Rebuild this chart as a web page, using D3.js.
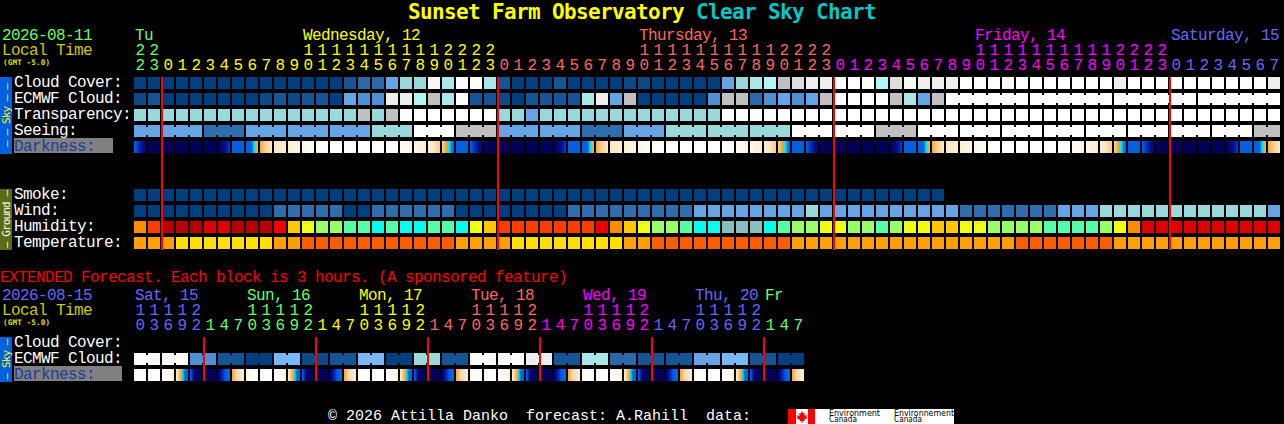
<!DOCTYPE html>
<html><head><meta charset="utf-8">
<script src="https://cdnjs.cloudflare.com/ajax/libs/d3/7.8.5/d3.min.js"></script>
<style>
html,body{margin:0;padding:0;background:#000;overflow:hidden}
svg{display:block}
text{font-family:"DejaVu Sans Mono",monospace;white-space:pre}
text.t{font-family:"Liberation Mono",monospace;font-size:16px;letter-spacing:-0.6px}
</style></head><body>
<script>
// ---------- hours ----------
const hoursMain = [22,23,
 0,1,2,3,4,5,6,7,8,9,10,11,12,13,14,15,16,17,18,19,20,21,22,23,
 0,1,2,3,4,5,6,7,8,9,10,11,12,13,14,15,16,17,18,19,20,21,22,23,
 0,1,2,3,4,5,6,7,8,9,10,11,12,13,14,15,16,17,18,19,20,21,22,23,
 0,1,2,3,4,5,6,7];
const hoursExt = [10,13,16,19,22,
 1,4,7,10,13,16,19,22, 1,4,7,10,13,16,19,22, 1,4,7,10,13,16,19,22,
 1,4,7,10,13,16,19,22, 1,4,7,10,13,16,19,22, 1,4,7];
const dayLabelsMain = ["Tu","Wednesday, 12","Thursday, 13","Friday, 14","Saturday, 15"];
const dayColsMain = [0,12,36,60,74];
const dayLabelsExt = ["Sat, 15","Sun, 16","Mon, 17","Tue, 18","Wed, 19","Thu, 20","Fr"];
const dayColsExt = [0,8,16,24,32,40,45];

// ---------- main forecast ----------
const cloudCover = [100,100,100,100,100,100,100,100,100,100,100,100,100,100,100,90,85,85,75,60,60,5,50,0,0,50,
 90,100,100,100,90,100,100,100,100,95,95,100,100,100,100,100,75,60,50,40,30,20,10,10,
 0,0,0,40,20,5,10,10,10,0,0,0,5,0,0,0,0,0,0,0,10,0,0,0,0,0,0,0,0,0,0,10];
const ecmwfCloud = [95,90,100,100,100,100,100,100,100,95,90,95,90,90,100,75,80,80,10,10,40,30,50,0,90,90,
 95,100,90,90,90,90,50,10,75,30,100,100,100,100,100,80,30,30,85,80,75,80,75,30,
 0,0,0,0,30,50,75,30,0,0,0,0,0,0,0,0,0,0,0,0,0,0,0,0,0,0,0,0,0,0,0,0];
const transparency = [2,2,2,2,2,2,2,2,2,2,2,2,2,2,2,2,0,2,0,1,1,1,1,1,1,1,
 2,2,3,2,2,2,2,2,2,2,2,2,2,2,2,2,1,1,1,1,1,1,1,1,
 1,1,1,1,1,1,1,1,1,1,1,1,1,1,1,1,1,1,1,1,1,1,1,1,1,1,1,1,1,1,1,1];
const seeing = [3,3,3,3,3,4,4,4,3,3,3,3,3,3,3,3,3,2,2,2,1,1,1,0,0,0,
 3,3,3,3,3,3,4,4,4,3,3,3,2,2,2,2,2,2,2,2,2,1,1,1,
 1,1,1,0,0,0,1,1,1,1,1,1,1,1,1,1,1,1,1,1,1,1,1,1,1,1,1,1,1,1,0,0];
const darkFrom = [5,7,7,7,7,7,7,5,5,3,2,1.5,1,0,0,0,0,0,0,0.5,1,1.5,2.6,5,5,7,
 7,7,7,7,7,5,5,3,2,1.5,1,0,0,0,0,0,0,0.5,1,1.5,2.6,5,5,7,
 7,7,7,7,7,5,5,3,2,1.5,1,0,0,0,0,0,0,0.5,1,1.5,2.6,5,5,7,
 7,7,7,7,7,5,5,3];
const darkTo = [6.5,7,7,7,7,7,5.5,5,3,2,1.5,1,0.5,0,0,0,0,0,0.5,1,1.5,2.6,4.2,5,6.5,7,
 7,7,7,7,5.5,5,3,2,1.5,1,0.5,0,0,0,0,0,0.5,1,1.5,2.6,4.2,5,6.5,7,
 7,7,7,7,5.5,5,3,2,1.5,1,0.5,0,0,0,0,0,0.5,1,1.5,2.6,4.2,5,6.5,7,
 7,7,7,7,5.5,5,3,2];
const smoke = [0,0,0,0,0,0,0,0,0,0,0,0,0,0,0,0,0,0,0,0,0,0,0,0,0,0,0,0,0,0,0,0,0,0,0,0,0,0,0,0,0,0,0,0,0,0,0,0,0,0,0,0,0,0,0,0,0,0];
const wind = [3,3,3,3,3,3,3,3,3,3,8,8,8,8,8,3,3,8,8,8,8,8,8,3,3,3,
 3,3,3,3,3,8,8,8,8,8,8,8,8,8,14,14,14,14,14,14,14,14,20,14,
 14,14,14,14,14,14,14,14,14,8,8,8,8,8,8,8,14,14,14,20,20,20,20,20,
 20,20,20,20,20,20,20,14];
const humidity = [65,70,85,85,85,80,80,85,85,85,75,60,55,50,50,45,45,35,45,35,35,45,45,35,55,60,
 70,70,70,70,70,70,70,75,65,60,55,50,50,45,35,35,25,25,25,35,45,50,50,55,55,50,
 50,45,50,55,55,60,60,55,55,50,50,50,50,45,45,45,45,50,55,65,80,80,
 80,80,80,80,80,80,80,80];
const temperature = [24,24,24,21,21,21,21,21,21,21,24,24,27,27,27,27,27,27,27,27,27,27,27,24,24,24,
 24,21,21,21,21,21,21,21,21,24,24,27,27,27,27,27,27,27,27,27,27,24,24,24,
 24,24,24,24,24,24,24,24,24,24,24,24,24,27,27,27,27,27,27,27,24,24,24,24,
 24,24,24,24,24,24,24,24];

// ---------- extended forecast ----------
const ecmwfExt = [0,5,5,0,80,80,90,90,100,100,70,70,95,95,90,90,70,70,100,100,60,60,90,90,
 0,5,5,0,10,10,90,90,50,50,85,85,90,90,90,90,75,75,70,70,90,90,100,100];
const darkFromExt = [0.7,0,0,2,5,7,6.5,3,1,0,0,2,5,7,6.5,3,0.5,0,0,2,5,7,6.5,3,0.5,0,0,2,5,7,6.5,3,0.5,0,0,2,5,7,6.5,3,0.5,0,0,2,5,7,6.5,3];
const darkToExt = [0,0,1.5,4.8,9,7,4.2,1.5,0,0,1.5,4.8,9,7,4.2,1.5,0,0,1.5,4.8,9,7,4.2,1.5,0,0,1.5,4.8,9,7,4.2,1.5,0,0,1.5,4.8,9,7,4.2,1.5,0,0,1.5,4.8,9,7,4.2,1.5];

// ---------- scales ----------
const dayPalette = ["#66ff66","#ffff00","#ff6666","#ff00ff","#6666ff"];
const extPalette = ["#6666ff","#66ff66","#ffff00","#ff6666","#ff00ff","#6666ff","#66ff66"];
const cloudColor = d3.scaleOrdinal(
 [0,5,10,20,30,40,50,60,70,75,80,85,90,95,100],
 ["#ffffff","#f8f8f8","#eeeeee","#dddddd","#c0c0c0","#b2f6f6","#a8e8e8","#99d9d9","#78b8f8","#65a5e5","#4f8fd6","#2a68a8","#155595","#0b4987","#003f7f"]);
const transColor = d3.scaleOrdinal([0,1,2,3],["#c0c0c0","#ffffff","#99d9d9","#65a5e5"]);
const seeColor = d3.scaleOrdinal([0,1,2,3,4],["#c0c0c0","#ffffff","#99d9d9","#65a5e5","#2e6eae"]);
const darkColor = d3.scaleLinear()
 .domain([0,1,2,2.6,3,3.4,3.6,3.85,4.2,5,5.6,6.2,7])
 .range(["#ffffff","#fff6e8","#ffe6c6","#ffcc8c","#ffa838","#60d080","#10e4f0","#0090f0","#0068e4","#0060e0","#0030b0","#000890","#000058"])
 .clamp(true);
const smokeColor = d3.scaleOrdinal([0],["#003f7f"]);
const windColor = d3.scaleOrdinal([3,8,14,20],["#003f7f","#2e6eae","#65a5e5","#99d9d9"]);
const humColor = d3.scaleOrdinal([25,35,45,50,55,60,65,70,75,80,85],
 ["#88c0c0","#00ffee","#55ffaa","#99ff66","#eeff10","#ffc800","#ff8c00","#ff3c00","#f00000","#e00000","#b80000"]);
const tempColor = d3.scaleOrdinal([21,24,27],["#ffe000","#ffa000","#ff5c00"]);

const svg = d3.select("body").append("svg").attr("width",1284).attr("height",424);
const CELL = 12, STEP = 14, LEFT = 134;
const xMain = d3.scaleBand().domain(d3.range(hoursMain.length))
  .range([LEFT, LEFT+STEP*hoursMain.length-(STEP-CELL)]).paddingInner((STEP-CELL)/STEP).paddingOuter(0);
const xExt = d3.scaleBand().domain(d3.range(hoursExt.length))
  .range([LEFT, LEFT+STEP*hoursExt.length-(STEP-CELL)]).paddingInner((STEP-CELL)/STEP).paddingOuter(0);

function txt(x,y,s,fill){
  return svg.append("text").attr("class","t").attr("x",x).attr("y",y).attr("fill",fill).text(s);
}
function cells(x,values,y,color,connected){
  const g = svg.append("g").attr("shape-rendering","crispEdges");
  g.selectAll("rect.c").data(values).join("rect").attr("class","c")
    .attr("x",(d,i)=>x(i)).attr("y",y).attr("width",x.bandwidth()).attr("height",CELL).attr("fill",d=>color(d));
  if(connected){
    g.selectAll("rect.j").data(values.map((d,i)=>({d,i})).filter(o=>o.i<values.length-1 && connected(o.i))).join("rect").attr("class","j")
      .attr("x",o=>x(o.i)+CELL).attr("y",y+2).attr("width",STEP-CELL).attr("height",CELL-4).attr("fill",o=>color(o.d));
  }
}
function darkCells(x,from,to,y){
  const g = svg.append("g").attr("shape-rendering","crispEdges");
  const px = d3.range(CELL);
  from.forEach((f,i)=>{
    const v = d3.scaleLinear().domain([0,CELL-1]).range([f,to[i]]);
    g.selectAll(null).data(px).join("rect")
      .attr("x",p=>x(i)+p).attr("y",y).attr("width",1).attr("height",CELL).attr("fill",p=>darkColor(v(p)));
  });
}
function hourLabels(x,hours,palette,yTens,yUnits){
  let day=0;
  hours.forEach((h,i)=>{
    if(i>0 && h<hours[i-1]) day++;
    const c=palette[day], cx=x(i)+CELL/2;
    if(h>=10) txt(cx,yTens,String(Math.floor(h/10)),c).attr("text-anchor","middle");
    txt(cx,yUnits,String(h%10),c).attr("text-anchor","middle");
  });
}
function gmt(y){
  svg.append("text").attr("x",3).attr("y",y).attr("fill","#e0e000").attr("font-size",7.6).attr("font-weight","bold")
    .attr("textLength",47).attr("lengthAdjust","spacing").text("(GMT -5.0)");
}

// ---------- title ----------
const title = svg.append("text").attr("x",408).attr("y",18.6).attr("font-size",21).attr("letter-spacing",-0.64).attr("font-weight","bold");
title.append("tspan").attr("fill","#ffff00").text("Sunset Farm Observatory ");
title.append("tspan").attr("fill","#00c8c8").text("Clear Sky Chart");

// ---------- main header ----------
txt(2,40,"2026-08-11",dayPalette[0]);
txt(2,55,"Local Time","#cccc00");
gmt(65);
dayLabelsMain.forEach((s,k)=>txt(Math.min(xMain(dayColsMain[k])+1,1284-s.length*9),40,s,dayPalette[k]));
hourLabels(xMain,hoursMain,dayPalette,55,70);

// ---------- side bars ----------
function bar(y0,y1,w,fill,s,col){
  svg.append("rect").attr("x",0).attr("y",y0).attr("width",w).attr("height",y1-y0).attr("fill",fill).attr("shape-rendering","crispEdges");
  const cy=(y0+y1)/2;
  svg.append("text").attr("transform",`translate(10,${cy}) rotate(-90)`).attr("text-anchor","middle")
    .attr("font-size",11).attr("letter-spacing",-0.88).attr("fill",col).text(s);
}
bar(77,154,12,"#0060e0","\u2013 \u2013 Sky \u2013 \u2013","#ffff00");
bar(189,250,12,"#5a6b10","\u2013 Ground \u2013","#ffffff");
bar(337,382,12,"#0060e0","\u2013 Sky \u2013","#ffff00");

// ---------- row labels ----------
const rowLabels = ["Cloud Cover:","ECMWF Cloud:","Transparency:","Seeing:"];
rowLabels.forEach((s,i)=>txt(14,87+16*i,s,"#ffffff"));
svg.append("rect").attr("x",14).attr("y",138).attr("width",99).attr("height",15).attr("fill","#808080").attr("shape-rendering","crispEdges");
txt(14,151,"Darkness:","#1c3c9c");
["Smoke:","Wind:","Humidity:","Temperature:"].forEach((s,i)=>txt(14,199+16*i,s,"#ffffff"));

// ---------- main cells ----------
const joinSeeing = i => (i+1)%3!==2;            // 3-hour blocks
const joinEcmwf  = i => i>=58 && (i-58)%6!==5;  // 6-hour blocks, far range only
cells(xMain,cloudCover,77,cloudColor);
cells(xMain,ecmwfCloud,93,cloudColor,joinEcmwf);
cells(xMain,transparency,109,transColor);
cells(xMain,seeing,125,seeColor,joinSeeing);
darkCells(xMain,darkFrom,darkTo,141);
cells(xMain,smoke,189,smokeColor);
cells(xMain,wind,205,windColor);
cells(xMain,humidity,221,humColor);
cells(xMain,temperature,237,tempColor);

// midnight lines
hoursMain.forEach((h,i)=>{ if(h===0)
  svg.append("rect").attr("x",xMain(i)-1).attr("y",77).attr("width",2).attr("height",173).attr("fill","#ff0000").attr("shape-rendering","crispEdges");
});

// ---------- extended ----------
txt(0,282,"EXTENDED Forecast. Each block is 3 hours. (A sponsored feature)","#ff0000");
txt(2,300,"2026-08-15",extPalette[0]);
txt(2,315,"Local Time","#cccc00");
gmt(325);
dayLabelsExt.forEach((s,k)=>txt(xExt(dayColsExt[k])+1,300,s,extPalette[k]));
hourLabels(xExt,hoursExt,extPalette,315,330);
txt(14,347,"Cloud Cover:","#ffffff");
txt(14,363,"ECMWF Cloud:","#ffffff");
svg.append("rect").attr("x",14).attr("y",366).attr("width",108).attr("height",15).attr("fill","#808080").attr("shape-rendering","crispEdges");
txt(14,379,"Darkness:","#1c3c9c");
cells(xExt,ecmwfExt,353,cloudColor,i=>i%2===0);
darkCells(xExt,darkFromExt,darkToExt,369);
hoursExt.forEach((h,i)=>{ if(i>0 && h<hoursExt[i-1])
  svg.append("rect").attr("x",xExt(i)-1).attr("y",337).attr("width",2).attr("height",44).attr("fill","#ff0000").attr("shape-rendering","crispEdges");
});

// ---------- footer ----------
txt(328,419.5,"\u00a9 2026 Attilla Danko  forecast: A.Rahill  data:","#ffffff")
  .style("font-size","15px").style("letter-spacing","0px");
const logo = svg.append("g");
logo.append("rect").attr("x",788).attr("y",409).attr("width",166).attr("height",15).attr("fill","#ffffff");
logo.append("rect").attr("x",788).attr("y",409).attr("width",8).attr("height",15).attr("fill","#ff0000");
logo.append("rect").attr("x",808).attr("y",409).attr("width",7).attr("height",15).attr("fill","#ff0000");
logo.append("path").attr("transform","translate(802,417)").attr("fill","#ff0000")
  .attr("d","M0,-6L1.3,-3.5L3,-4L2.4,-1L5,-2L4.4,0L5.5,1L2,3L2.4,4.2L0.5,4L0.5,6L-0.5,6L-0.5,4L-2.4,4.2L-2,3L-5.5,1L-4.4,0L-5,-2L-2.4,-1L-3,-4L-1.3,-3.5Z");
[["Environment",829,415.5,51],["Canada",829,422,28],["Environnement",894,415.5,60],["Canada",894,422,28]].forEach(o=>{
  logo.append("text").attr("x",o[1]).attr("y",o[2]).attr("fill","#000").attr("font-size",8)
    .attr("style",'font-family:"DejaVu Sans",sans-serif').attr("textLength",o[3]).attr("lengthAdjust","spacingAndGlyphs").text(o[0]);
});
</script>
</body></html>
